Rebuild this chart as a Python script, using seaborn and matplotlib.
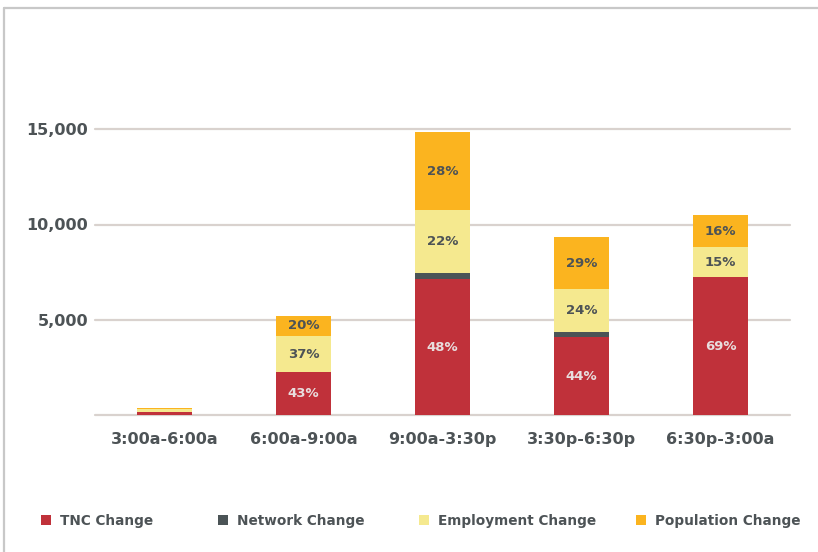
import matplotlib
matplotlib.use("Agg")
import matplotlib.pyplot as plt
from matplotlib.patches import Patch
from matplotlib.lines import Line2D
import seaborn as sns
import pandas as pd
import numpy as np

periods = ["3:00a-6:00a", "6:00a-9:00a", "9:00a-3:30p", "3:30p-6:30p", "6:30p-3:00a"]
tnc = [150, 2236, 7130, 4090, 7230]
network = [0, 0, 300, 290, 0]
employment = [140, 1924, 3330, 2240, 1570]
population = [80, 1040, 4090, 2700, 1700]
pct_tnc = ["", "43%", "48%", "44%", "69%"]
pct_emp = ["", "37%", "22%", "24%", "15%"]
pct_pop = ["", "20%", "28%", "29%", "16%"]
series_names = ["TNC Change", "Network Change", "Employment Change", "Population Change"]
colors = ["#c0313a", "#4b5456", "#f5e98f", "#fbb41f"]

sns.set_theme(style="white")
plt.rcParams["font.family"] = ["DejaVu Sans"]
text_color = "#4d5356"

fig = plt.figure(figsize=(8.18, 5.52), dpi=100)
ax = fig.add_axes([95/818, (552-415)/552, (790-95)/818, 381/552])

df = pd.DataFrame({"period": periods, "tnc": tnc, "network": network,
                   "employment": employment, "population": population})
c1 = df["tnc"].values
c2 = c1 + df["network"].values
c3 = c2 + df["employment"].values
c4 = c3 + df["population"].values

layers = [(c4, colors[3]), (c3, colors[2]), (c2, colors[1]), (c1, colors[0])]
for vals, col in layers:
    sns.barplot(x=periods, y=vals, color=col, width=0.4, ax=ax,
                saturation=1, order=periods, linewidth=0, zorder=3)

# percent labels
for i in range(len(periods)):
    if pct_tnc[i]:
        ax.text(i, c1[i] / 2, pct_tnc[i], ha="center", va="center",
                fontsize=9.5, fontweight="bold", color="#e8dede", zorder=5)
    if pct_emp[i]:
        ax.text(i, (c2[i] + c3[i]) / 2, pct_emp[i], ha="center", va="center",
                fontsize=9.5, fontweight="bold", color=text_color, zorder=5)
    if pct_pop[i]:
        ax.text(i, (c3[i] + c4[i]) / 2, pct_pop[i], ha="center", va="center",
                fontsize=9.5, fontweight="bold", color=text_color, zorder=5)

ax.set_xlim(-0.5, 4.5)
ax.set_ylim(0, 20000)
ax.set_yticks([0, 5000, 10000, 15000])
ax.set_yticklabels(["", "5,000", "10,000", "15,000"])
ax.grid(axis="y", color="#d9d2ce", linewidth=1.6, zorder=0)
ax.grid(axis="x", visible=False)
ax.set_axisbelow(True)
for gl in ax.get_ygridlines():
    gl.set_clip_on(False)
for s in ax.spines.values():
    s.set_visible(False)
ax.tick_params(axis="y", length=0, pad=5, labelsize=11.5, labelcolor=text_color)
ax.tick_params(axis="x", length=0, pad=12, labelsize=11.5, labelcolor=text_color)
for lab in ax.get_xticklabels() + ax.get_yticklabels():
    lab.set_fontweight("bold")
ax.set_xlabel("")
ax.set_ylabel("")

# legend: one entry per position to match reference spacing
leg_x = [41, 218, 419, 636]
for c, n, x in zip(colors, series_names, leg_x):
    leg = fig.legend(handles=[Patch(facecolor=c, edgecolor="none", label=n)],
                     loc="center left", bbox_to_anchor=(x/818, 1 - 521/552),
                     frameon=False, handlelength=0.72, handleheight=0.72,
                     handletextpad=0.7, borderpad=0, borderaxespad=0,
                     prop={"weight": "bold", "size": 9.8})
    for t in leg.get_texts():
        t.set_color(text_color)

# figure frame (top and left)
fig.add_artist(Line2D([4/818, 1], [1 - 8/552, 1 - 8/552], transform=fig.transFigure,
                      color="#c8c8c8", linewidth=1.6))
fig.add_artist(Line2D([4/818, 4/818], [0, 1 - 8/552], transform=fig.transFigure,
                      color="#c8c8c8", linewidth=1.6))

fig.savefig("out.png", dpi=100)
